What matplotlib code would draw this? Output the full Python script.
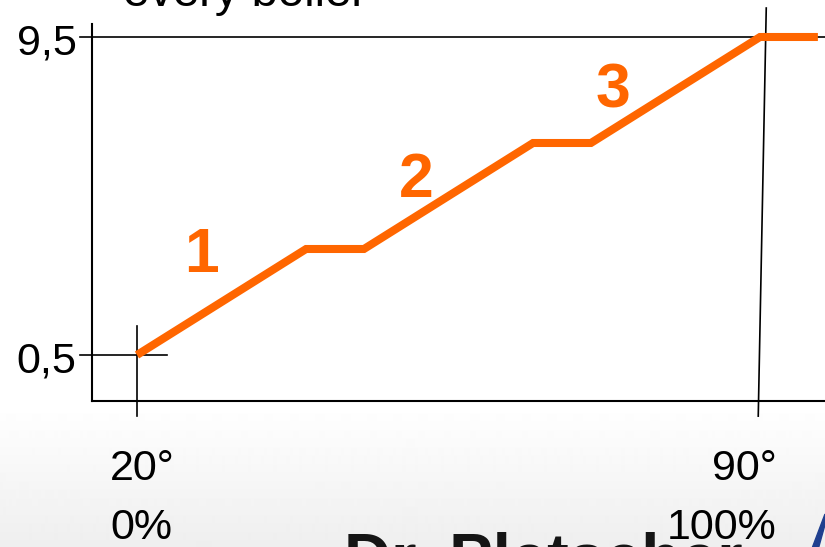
import numpy as np
import matplotlib.pyplot as plt
from matplotlib.patches import Polygon

plt.rcParams['font.family'] = ['Liberation Sans', 'DejaVu Sans']

# --- data: boiler temperature ramp with hold phases
angle = [20, 39, 45.5, 64.5, 71, 90, 96.5]       # deg
level = [0.5, 3.5, 3.5, 6.5, 6.5, 9.5, 9.5]

phase_labels = ['1', '2', '3']
phase_x = [27.3, 51.4, 73.5]
phase_y = [3.33, 5.45, 7.97]

y_ticks = [0.5, 9.5]
y_tick_labels = ['0,5', '9,5']
x_ticks = [20, 90]
x_deg_labels = ['20°', '90°']
x_pct_labels = ['0%', '100%']

orange = '#ff6600'

# --- figure covering the whole canvas in data units
fig = plt.figure(figsize=(8.25, 5.47), dpi=100)
ax = fig.add_axes([0, 0, 1, 1])
xlims = [4.61, 97.30]
ylims = [-4.934, 10.547]
ax.set_xlim(*xlims)
ax.set_ylim(*ylims)
ax.axis('off')

# light grey band fading in at the bottom
rows = 547
shade = np.ones(rows)
start = 405
shade[start:] = np.linspace(1.0, 0.935, rows - start)
ax.imshow(shade[:, None], cmap='gray', vmin=0, vmax=1, aspect='auto',
          extent=xlims + ylims, zorder=0, interpolation='bilinear')

# --- axes frame
x0, y0 = 14.9, -0.80
ax.plot([x0, x0], [y0, 9.87], color='black', lw=1.5, zorder=2)
ax.plot([x0, xlims[1]], [y0, y0], color='black', lw=1.5, zorder=2)

# reference lines at the tick levels
ax.plot([13.6, xlims[1]], [y_ticks[1]] * 2, color='black', lw=1.2, zorder=2)
ax.plot([13.6, 23.4], [y_ticks[0]] * 2, color='black', lw=1.2, zorder=2)
ax.plot([x_ticks[0]] * 2, [1.32, -1.23], color='black', lw=1.2, zorder=2)
ax.plot([x_ticks[1] + 0.7, x_ticks[1] - 0.2], [10.32, -1.23], color='black', lw=1.2, zorder=2)

# --- ramp curve
ax.plot(angle, level, color=orange, lw=5.8, solid_capstyle='butt',
        solid_joinstyle='miter', zorder=3)

for lab, px, py in zip(phase_labels, phase_x, phase_y):
    ax.text(px, py, lab, color=orange, fontsize=45, fontweight='bold',
            ha='center', va='center', zorder=4)

# --- tick labels
for yt, lab in zip(y_ticks, y_tick_labels):
    ax.text(13.2, yt - 0.17, lab, fontsize=31, ha='right', va='center', zorder=4)

ax.text(17.0, -2.73, x_deg_labels[0], fontsize=31, ha='left', va='center', zorder=4)
ax.text(17.0, -4.40, x_pct_labels[0], fontsize=31, ha='left', va='center', zorder=4)
ax.text(91.9, -2.73, x_deg_labels[1], fontsize=31, ha='right', va='center', zorder=4)

# slide title (cut off at the top) and footer logo text
ax.text(18.4, 10.38, 'every boiler', fontsize=34, ha='left', va='baseline',
        zorder=4, clip_on=False)
ax.text(43.3, -5.82, 'Dr. Pletscher', fontsize=47, fontweight='bold', color='#151515',
        ha='left', va='baseline', zorder=3, clip_on=False)
ax.text(91.9, -4.40, x_pct_labels[1], fontsize=31, ha='right', va='center', zorder=4)

ax.add_patch(Polygon([(95.9, -4.934), (97.30, -4.0), (97.30, -4.3), (96.6, -4.934)],
                     closed=True, color='#1f3f8f', zorder=4, clip_on=False))

fig.savefig('out.png', dpi=100)
